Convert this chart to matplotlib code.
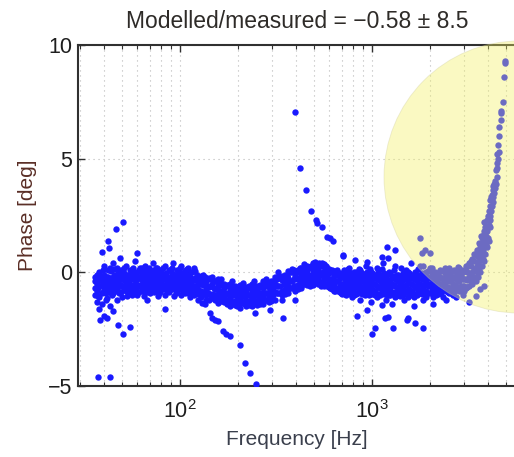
import matplotlib
matplotlib.use("Agg")
import matplotlib.pyplot as plt
from matplotlib.patches import Ellipse
from matplotlib.ticker import LogLocator, FixedLocator

plt.rcParams['font.family'] = ['Liberation Sans', 'DejaVu Sans']

# ---------------- data ----------------
# main band, grouped: each frequency has several measured phase values
band_freq = [36, 37, 38, 39, 40, 41, 42, 43, 44, 45, 46, 47, 48, 50, 52, 54, 56, 58, 60,
             62, 64, 66, 68, 70, 72, 74, 76, 78, 80, 83, 86, 89, 92, 95, 98, 101, 104, 107, 110,
             114, 118, 122, 126, 130,
             135, 140, 145, 150, 155, 160, 166, 172, 178, 184, 190, 196, 203, 210, 217, 224,
             232, 240, 248, 256, 265, 274, 284, 294,
             305, 318, 332, 346, 360, 375, 390, 405, 420, 435, 450, 466, 482, 498, 515, 532,
             550, 568, 586, 605, 625, 645, 666, 688,
             710, 735, 760, 785, 810, 840, 870, 900, 930, 960, 990, 1020, 1060, 1100, 1140,
             1180, 1220, 1270, 1320, 1370, 1420, 1470, 1530, 1590, 1650, 1710, 1780, 1850,
             1920, 2000, 2080, 2160, 2250, 2340, 2430, 2530, 2630, 2740,
             2850, 2960, 3080, 3200, 3330, 3460, 3560, 3650, 3730, 3810, 3890, 3970, 4050,
             4130, 4210, 4290, 4370, 4450, 4520, 4600, 4680, 4780, 4860, 4930]
band_phase = [
    [-0.4, -0.7, -0.2, -1.0], [-0.5, -0.1, -0.8, -1.3], [-0.3, -0.6, -1.1, 0.0, -1.6],
    [-0.4, -0.9, -0.2, -1.4], [-0.5, -0.1, -0.7, -1.9, 0.3], [-0.3, -0.6, -1.2, -0.9],
    [-0.2, -0.5, -0.8, 0.1], [-0.4, -0.7, -1.5, 0.2], [-0.3, -0.6, -1.0],
    [-0.2, -0.5, -0.9, -1.7, 0.4], [-0.4, -0.1, -0.8], [-0.3, -0.6, -1.2, 0.2],
    [-0.2, -0.5, -0.9], [-0.3, -0.6, 0.0, -1.1], [-0.2, -0.5, -0.8, 0.3],
    [-0.4, -0.1, -0.7], [-0.3, -0.6, 0.1, -1.0], [-0.2, -0.5, -0.8, 0.5], [-0.3, -0.6, 0.0, -1.0],
    [-0.2, -0.6, 0.2], [-0.4, -0.8, 0.0], [-0.3, -0.5, 0.3], [-0.1, -0.7, -0.4],
    [-0.3, -0.5, 0.1, -0.9], [-0.2, -0.6, 0.4], [-0.4, -0.1, -0.8], [-0.3, -0.6, 0.2],
    [-0.2, -0.5, -0.9], [-0.4, 0.0, -0.7], [-0.3, -0.6, 0.3, -1.0], [-0.2, -0.5, -0.8],
    [-0.4, 0.1, -0.7], [-0.3, -0.6, 0.4], [-0.2, -0.5, -0.9], [-0.4, 0.0, -0.7],
    [-0.3, -0.6, 0.3, -1.0], [-0.2, -0.5, -0.8], [-0.4, 0.1, -0.7], [-0.3, -0.6, 0.2, -0.9],
    [-0.4, -0.7, 0.0], [-0.3, -0.6, 0.2, -1.0], [-0.4, -0.8, -0.1], [-0.5, -0.8, -0.2],
    [-0.5, -0.9, -0.2],
    [-0.5, -0.9, -0.2], [-0.6, -0.3, -0.9], [-0.6, -1.0, -0.3], [-0.7, -0.4, -1.0],
    [-0.7, -1.1, -0.4], [-0.8, -0.5, -1.1], [-0.8, -1.1, -0.5], [-0.9, -0.6, -1.2],
    [-0.9, -1.2, -0.6], [-1.0, -0.7, -1.3], [-1.0, -1.3, -0.7], [-1.0, -0.7, -1.3],
    [-1.1, -0.8, -1.4], [-1.0, -1.3, -0.7], [-1.1, -0.8, -1.4], [-1.0, -1.3, -0.7],
    [-1.0, -0.7, -1.3], [-1.1, -0.8, -1.3], [-1.0, -1.3, -0.7], [-1.0, -0.7, -1.2],
    [-0.9, -1.2, -0.6], [-0.9, -0.6, -1.2], [-0.9, -1.2, -0.6], [-0.8, -0.5, -1.1],
    [-0.7, -0.4, -1.0], [-0.6, -0.3, -0.9], [-0.6, -0.2, -0.9], [-0.5, -0.2, -0.8],
    [-0.4, -0.1, -0.8], [-0.4, 0.0, -0.7], [-0.3, 0.1, -0.6], [-0.3, 0.0, -0.6],
    [-0.2, 0.2, -0.5], [-0.2, 0.1, -0.5], [-0.1, 0.3, -0.4], [-0.1, 0.2, -0.5],
    [-0.1, 0.3, -0.4], [0.0, 0.4, -0.3], [-0.1, 0.3, -0.4], [0.0, 0.4, -0.4],
    [-0.1, 0.4, -0.5], [-0.1, 0.3, -0.5], [-0.2, 0.2, -0.6], [-0.3, 0.1, -0.7],
    [-0.3, 0.0, -0.7], [-0.4, 0.0, -0.8], [-0.4, -0.1, -0.8], [-0.5, -0.1, -0.9],
    [-0.5, -0.2, -0.9, 0.1], [-0.4, -0.7, -1.0, -0.1], [-0.5, -0.2, -0.8, 0.2],
    [-0.6, -0.3, -1.1], [-0.4, -0.7, 0.0, -1.0], [-0.5, -0.2, -0.9],
    [-0.6, -0.3, -1.2, 0.1], [-0.4, -0.7, -0.1], [-0.5, -0.9, -0.2, 0.3],
    [-0.6, -0.3, -1.0], [-0.4, -0.8, 0.0, -1.3], [-0.5, -0.2, -0.9],
    [-0.6, -0.3, -1.1, 0.2], [-0.4, -0.7, -0.1, -1.0], [-0.5, -0.9, -0.2, 0.4],
    [-0.6, -0.3, -1.2], [-0.4, -0.8, 0.0, -1.0], [-0.5, -0.2, -0.9, -1.4],
    [-0.6, -0.3, -1.1, 0.3], [-0.4, -0.7, -0.1, -1.0], [-0.5, -0.9, -0.2, 0.2],
    [-0.6, -0.3, -1.2, -0.8], [-0.4, -0.8, 0.0, -1.1], [-0.5, -0.2, -0.9, 0.4],
    [-0.6, -0.3, -1.1, -1.5], [-0.4, -0.7, -0.1, -1.0], [-0.5, -0.9, -0.2, 0.3],
    [-0.6, -0.3, -1.2, -0.8], [-0.4, -0.8, 0.0, -1.1], [-0.5, -0.2, -0.9, 0.2],
    [-0.6, -0.3, -1.1, -1.4], [-0.4, -0.7, -0.1, -1.0], [-0.5, -0.9, -0.2, 0.1],
    [-0.5, -0.3, -1.1, -0.7], [-0.4, -0.8, -0.1, -1.2], [-0.4, -0.2, -0.9, 0.2],
    [-0.5, -0.2, -1.0, -0.7], [-0.3, -0.6, 0.0, -1.1],
    [-0.4, -0.1, -0.8, 0.2], [-0.3, -0.6, 0.0, -1.0], [-0.3, 0.1, -0.7, 0.3],
    [-0.2, 0.4, -0.6, -1.3], [0.0, 0.6, -0.5], [0.2, 0.8, -0.4, -1.05],
    [0.4, 1.0, -0.2], [0.6, 1.2, 0.0, -0.75], [0.9, 1.5, 0.3], [1.2, 1.8, 0.5, -0.6],
    [1.5, 2.0, 0.8], [1.8, 2.3, 1.1], [2.1, 2.7, 1.4], [2.5, 3.2, 2.0], [2.9, 3.4],
    [3.3, 3.8], [3.7, 4.0], [4.2, 4.8], [5.0, 5.6], [6.0, 6.4], [6.7, 7.1], [7.5],
    [8.6], [9.2, 9.3]]

# second set of band points, at frequencies between the first set
band2_freq = [37.5, 39.5, 41.5, 43.5, 45.5, 47.5, 49, 51, 53, 55, 57, 59, 61, 63, 65, 67, 69,
              71, 73, 75, 77, 79, 81.5, 84.5, 87.5, 90.5, 93.5, 96.5, 99.5, 102.5, 105.5,
              108.5, 112, 116, 120, 124, 128, 132, 137, 142, 147, 152, 157, 163, 169, 175,
              181, 187, 193, 199, 206, 213, 220, 228, 236, 244, 252, 260, 269, 279, 289, 299,
              311, 325, 339, 353, 367, 382, 397, 412, 427, 442, 458, 474, 490, 506, 523, 541,
              559, 577, 595, 615, 635, 655, 677, 699, 722, 747, 772, 797, 825, 855, 885, 915,
              945, 975, 1005, 1040, 1080, 1120, 1160, 1200, 1245, 1295, 1345, 1395, 1445,
              1500, 1560, 1620, 1680, 1745, 1815, 1885, 1960, 2040, 2120, 2205, 2295, 2385,
              2480, 2580, 2685, 2795, 2905, 3020, 3140, 3265, 3400, 3510, 3610, 3690, 3770,
              3850, 3930, 4010, 4090, 4170, 4250, 4330, 4410, 4490, 4560, 4720]
band2_phase = [
    [-0.35, -0.7, -0.1, -1.05], [-0.45, -0.15, -0.85, 0.1], [-0.2, -0.55, -0.8, -1.15],
    [-0.35, 0.05, -0.65, -0.9], [-0.15, -0.5, -0.75, 0.15], [-0.35, -0.05, -0.8, -0.6],
    [-0.2, -0.55, 0.1, -0.85], [-0.35, -0.05, -0.75, 0.2], [-0.1, -0.45, -0.7, -1.05],
    [-0.3, 0.1, -0.6, -0.85], [-0.1, -0.55, -0.75, 0.2], [-0.35, -0.05, -0.75, -0.55],
    [-0.2, -0.55, 0.1, -0.85], [-0.35, -0.05, -0.75, 0.2], [-0.1, -0.45, -0.7, -1.05],
    [-0.3, 0.1, -0.6, -0.85], [-0.1, -0.55, -0.75, 0.2], [-0.35, -0.05, -0.75, -0.55],
    [-0.2, -0.55, 0.1, -0.85], [-0.35, -0.05, -0.75, 0.2], [-0.1, -0.45, -0.7, -1.05],
    [-0.3, 0.1, -0.6, -0.85], [-0.1, -0.55, -0.75, 0.2], [-0.35, -0.05, -0.75, -0.55],
    [-0.2, -0.55, 0.1, -0.85], [-0.35, -0.05, -0.75, 0.2], [-0.1, -0.45, -0.7, -1.05],
    [-0.3, 0.1, -0.6, -0.85], [-0.1, -0.55, -0.75, 0.2], [-0.35, -0.05, -0.75, -0.55],
    [-0.25, -0.6, 0.05, -0.9], [-0.4, -0.1, -0.8, 0.15], [-0.2, -0.55, -0.8, -1.1],
    [-0.4, 0.0, -0.7, -0.95], [-0.25, -0.7, -0.9, 0.05], [-0.5, -0.2, -0.95, -0.75],
    [-0.4, -0.8, -0.15, -1.1], [-0.55, -0.25, -0.95, -0.1], [-0.4, -0.75, -1.0, -1.2],
    [-0.65, -0.25, -0.95, -1.2], [-0.5, -0.95, -1.15, -0.2], [-0.75, -0.4, -1.2, -1.0],
    [-0.6, -0.95, -0.3, -1.35], [-0.85, -0.55, -1.25, -0.3], [-0.7, -1.05, -1.3, -0.5],
    [-0.95, -0.55, -1.4, -1.2], [-0.8, -1.15, -0.5, -1.5], [-1.0, -0.6, -1.3, -0.4],
    [-0.8, -1.25, -1.45, -0.6], [-1.05, -0.65, -1.5, -1.3], [-0.85, -1.2, -0.55, -1.55],
    [-1.05, -0.65, -1.35, -0.45], [-0.85, -1.3, -1.5, -0.65], [-1.0, -0.6, -1.45, -1.25],
    [-0.8, -1.15, -0.5, -1.5], [-1.0, -0.6, -1.3, -0.4], [-0.8, -1.25, -1.45, -0.6],
    [-0.95, -0.55, -1.4, -1.2], [-0.7, -1.05, -0.4, -1.4], [-0.9, -0.5, -1.2, -0.3],
    [-0.65, -1.1, -1.3, -0.45], [-0.8, -0.4, -1.25, -1.05], [-0.5, -0.85, -0.2, -1.2],
    [-0.6, -0.2, -0.9, 0.0], [-0.35, -0.8, -1.0, -0.15], [-0.5, -0.1, -0.95, -0.75],
    [-0.25, -0.6, 0.05, -0.9], [-0.4, 0.0, -0.7, 0.15], [-0.15, -0.6, -0.8, 0.05],
    [-0.3, 0.1, -0.75, -0.55], [-0.05, -0.4, 0.2, -0.7], [-0.2, 0.2, -0.5, 0.35],
    [0.05, -0.3, -0.55, 0.3], [-0.15, 0.25, -0.45, -0.6], [0.1, -0.25, 0.4, -0.55],
    [-0.1, 0.3, -0.4, 0.45], [0.1, -0.25, -0.5, 0.35], [-0.1, 0.3, -0.45, -0.6],
    [0.05, -0.3, 0.35, -0.6], [-0.2, 0.2, -0.5, 0.3], [-0.05, -0.4, -0.65, 0.15],
    [-0.3, 0.1, -0.75, -0.55], [-0.15, -0.5, 0.05, -0.8], [-0.4, 0.0, -0.7, 0.1],
    [-0.25, -0.6, -0.85, -0.05], [-0.5, -0.1, -0.95, -0.75],
    [-0.3, -0.65, 0.0, -0.95], [-0.5, -0.1, -0.8, 0.15], [-0.3, -0.75, -0.95, -0.05],
    [-0.5, -0.1, -1.0, -0.8], [-0.3, -0.65, 0.0, -0.95], [-0.5, -0.1, -0.8, 0.15],
    [-0.3, -0.75, -0.95, -0.05], [-0.5, -0.1, -1.0, -0.8], [-0.3, -0.65, 0.0, -0.95],
    [-0.5, -0.1, -0.8, 0.15], [-0.3, -0.75, -0.95, -0.05], [-0.5, -0.1, -1.0, -0.8],
    [-0.3, -0.65, 0.0, -0.95], [-0.5, -0.1, -0.8, 0.15], [-0.3, -0.75, -0.95, -0.05],
    [-0.5, -0.1, -1.0, -0.8],
    [-0.35, -0.7, -0.05, -1.0], [-0.55, -0.15, -0.85, 0.1], [-0.35, -0.8, -1.0, -0.1],
    [-0.55, -0.15, -1.05, -0.85], [-0.35, -0.7, -0.05, -1.0], [-0.55, -0.15, -0.85, 0.1],
    [-0.3, -0.75, -0.95, -0.05], [-0.5, -0.1, -1.0, -0.8], [-0.3, -0.65, 0.0, -0.95],
    [-0.5, -0.1, -0.8, 0.15], [-0.3, -0.75, -0.95, -0.05], [-0.5, -0.1, -1.0, -0.8],
    [-0.25, -0.6, 0.05, -0.9], [-0.45, -0.05, -0.75, 0.2], [-0.25, -0.7, -0.9, 0.0],
    [-0.45, -0.05, -0.95, -0.75], [-0.25, -0.6, 0.05, -0.9], [-0.45, -0.05, -0.75, 0.2],
    [-0.2, -0.65, -0.85, 0.05], [-0.4, 0.0, -0.9, -0.7], [-0.2, -0.55, 0.1, -0.85],
    [-0.4, 0.0, -0.7, 0.25], [-0.15, -0.6, -0.8, 0.1], [-0.3, 0.1, -0.8, -0.6],
    [0.0, -0.35, 0.3, -0.65], [-0.1, 0.3, -0.4, 0.5],
    [0.1, 0.5, -0.2, 0.8], [0.3, 0.7, 0.0, 1.0], [0.5, 0.9, 0.2, 1.3], [0.7, 1.1, 1.6],
    [1.0, 1.4, 0.6], [1.3, 1.7, 2.2], [1.6, 2.0, 1.2], [2.0, 2.5, 1.5], [2.3, 2.9],
    [2.7, 3.3], [3.1, 3.6], [3.5, 3.9], [3.9, 4.5], [4.6, 5.2], [5.3], [7.0]]

# branch rising above the band near 400-700 Hz
up_freq = [397, 422, 453, 481, 511, 518, 548, 583, 604, 626, 707]
up_phase = [7.05, 4.6, 3.6, 2.7, 2.3, 2.15, 2.0, 1.55, 1.5, 1.36, 0.7]

# branch falling below the band near 130-250 Hz
down_freq = [124, 130, 135, 143, 147, 152, 158, 167, 174, 182, 205, 218, 231, 249]
down_phase = [-1.23, -1.37, -1.4, -1.8, -2.0, -2.1, -2.15, -2.6, -2.7, -2.8, -3.2, -4.0, -4.45, -4.9]

# isolated points
out_freq = [37.4, 43.2, 38.3, 41.7, 47.6, 50.5, 54.9, 67.3, 83.5,
            39.3, 42.2, 42.6, 46.4, 48.7, 50.5, 59.7,
            246, 294, 344, 340, 397,
            707, 815, 941, 835, 941, 1034, 1127, 1000, 1170, 1285, 1540, 1670, 1840,
            1199, 1318, 1127, 1210, 1210, 1524, 1780, 1823, 1890, 2000, 1850]
out_phase = [-4.6, -4.6, -2.1, -2.0, -2.3, -2.7, -2.4, -1.23, -1.6,
             0.88, 1.4, 1.06, 1.9, 0.62, 2.2, 0.84,
             -1.8, -1.67, -2.0, -1.2, -1.23,
             0.75, 0.53, 0.44, -1.9, -1.67, -2.47, -1.45, -2.7, -2.0, -2.45, -2.0, -2.25, -2.45,
             1.1, 0.97, 0.66, 0.62, -1.98, -2.1, 1.5, 0.84, 0.97, 0.84, 0.3]

x_ticks = [100, 1000]
y_ticks = [-5, 0, 5, 10]
title_text = "Modelled/measured = \u22120.58 \u00b1 8.5"

# ---------------- figure ----------------
W, H = 514, 457
fig = plt.figure(figsize=(W / 100, H / 100), dpi=100)
ax = fig.add_axes([78 / W, (H - 386) / H, (516 - 78) / W, (386 - 45) / H])

fx, fy = [], []
for freqs, phases in ((band_freq, band_phase), (band2_freq, band2_phase)):
    for f, ps in zip(freqs, phases):
        for p in ps:
            fx.append(f)
            fy.append(p)
fx += up_freq + down_freq + out_freq
fy += up_phase + down_phase + out_phase

ax.plot(fx, fy, 'o', color='#1a1aff', markersize=4.6, markeredgewidth=0, zorder=3)

ax.set_xscale('log')
ax.set_xlim(29.4, 5620)
ax.set_ylim(-5, 10)
ax.xaxis.set_major_locator(FixedLocator(x_ticks))
ax.xaxis.set_minor_locator(LogLocator(base=10, subs=range(2, 10)))
ax.yaxis.set_major_locator(FixedLocator(y_ticks))

grid_kw = dict(color='#b8b8b8', linestyle=(0, (1, 3.5)), linewidth=0.8)
ax.grid(True, which='major', axis='both', **grid_kw)
ax.grid(True, which='minor', axis='x', **grid_kw)
ax.set_axisbelow(True)

for s in ['left', 'bottom', 'top', 'right']:
    ax.spines[s].set_color('#303030')
    ax.spines[s].set_linewidth(1.5)

ax.tick_params(axis='both', which='both', direction='in', top=True, right=False,
               colors='#303030', labelcolor='#1e1e1e', labelsize=15.5)
ax.tick_params(axis='both', which='major', length=5, width=1.0)
ax.tick_params(axis='x', which='minor', length=3, width=0.8)
ax.tick_params(axis='x', which='major', pad=10)
ax.tick_params(axis='y', which='major', pad=4)

ax.set_xlabel("Frequency [Hz]", fontsize=15, color='#3a3f4c', labelpad=5)
ax.set_ylabel("Phase [deg]", fontsize=15, color='#5a2e26', labelpad=8)
ax.set_title(title_text, fontsize=16.5, color='#2e2b28', pad=12)

# highlight ellipse (figure pixel coordinates)
ell = Ellipse(((519) / W, (H - 177) / H), 270 / W, 272 / H,
              transform=fig.transFigure, facecolor='#f2f060', alpha=0.38,
              edgecolor='#d0ce9e', linewidth=0.6, zorder=10)
fig.add_artist(ell)

fig.savefig("out.png", dpi=100)
